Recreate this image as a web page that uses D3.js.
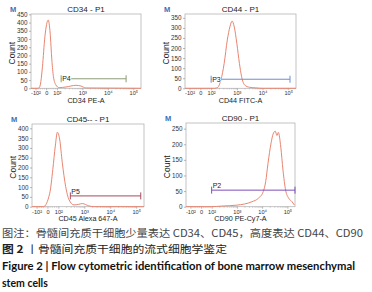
<!DOCTYPE html>
<html>
<head>
<meta charset="utf-8">
<script src="https://cdn.jsdelivr.net/npm/d3@7"></script>
<style>
  body { margin: 0; background: #fff; }
  svg { display: block; }
</style>
</head>
<body>
<svg id="chart"></svg>
<script>
// x ticks shared by all panels
const xTickValues = [-100, 0, 100, 1000, 10000, 100000];
const xTickLabels = ["-10\u00b2", "0", "10\u00b2", "10\u00b3", "10\u2074", "10\u2075"];

// CD34 histogram (fluorescence, count)
const cd34X = [-150, -84, -65, -50, -35, -12, 19, 37, 53, 68, 91, 123, 225, 556, 870, 1371, 200000];
const cd34Y = [0, 0, 3, 40, 131, 314, 415, 336, 172, 70, 20, 4, 8, 18, 14, 2, 0];

// CD44
const cd44X = [-150, 100, 137, 182, 240, 322, 426, 537, 653, 794, 1000, 1259, 1531, 2030, 3110, 5500, 10000, 200000];
const cd44Y = [0, 0, 0, 5, 41, 124, 240, 305, 334, 305, 223, 124, 58, 16, 5, 2, 0, 0];

// CD45
const cd45X = [-150, -37, 21, 49, 72, 91, 112, 142, 191, 259, 400, 600, 835, 1500, 2500, 200000];
const cd45Y = [0, 0, 69, 190, 310, 380, 345, 224, 103, 35, 9, 12, 16, 4, 0, 0];

// CD90
const cd90X = [-150, 100, 247, 1000, 3954, 7080, 11000, 13800, 17000, 22700, 27000, 33000, 38500, 43700, 54700, 66900, 85000, 113000, 152000, 190000];
const cd90Y = [0, 0, 2, 5, 16, 27, 48, 80, 138, 205, 232, 242, 228, 238, 191, 117, 53, 27, 16, 5];

// panel settings
const titles = ["CD34 - P1", "CD44 - P1", "CD45-- - P1", "CD90 - P1"];
const xLabels = ["CD34 PE-A", "CD44 FITC-A", "CD45 Alexa 647-A", "CD90 PE-Cy7-A"];
const yMaxes = [452, 369, 422, 268];
const yTickMax = [450, 350, 400, 250];
const gateNames = ["P4", "P3", "P5", "P2"];
const gateFrom = [147, 100, 290, 100];
const gateTo = [52000, 117000, 150000, 200000];
const gateLevel = [58, 45, 55, 53];

const W = 372, H = 292;
const svg = d3.select("#chart").attr("width", W).attr("height", H);

// biexponential-like transform: linear around 0, log10 above 100
function biex(v) {
    let a = Math.abs(v);
    let t = a <= 100 ? a / 100 * 0.42 : 0.42 + Math.log10(a / 100);
    return v < 0 ? -t : t;
}

const boxes = [
    {left: 31, top: 14, right: 141, bottom: 88.3},
    {left: 185, top: 14, right: 296, bottom: 88.3},
    {left: 32, top: 124, right: 144, bottom: 206.7},
    {left: 186, top: 123, right: 295, bottom: 206.7}
];
const gateColors = ["#8e9c76", "#6f8fcb", "#a84a5c", "#7b50b8"];
const labelAbove = [false, false, true, true];
const series = [[cd34X, cd34Y], [cd44X, cd44Y], [cd45X, cd45Y], [cd90X, cd90Y]];

const font = "'Liberation Sans', Arial, sans-serif";

boxes.forEach(function (b, i) {
    let g = svg.append("g");

    let xs = d3.scaleLinear().domain([biex(-150), biex(200000)]).range([b.left, b.right]);
    let x = v => xs(biex(v));
    let y = d3.scaleLinear().domain([0, yMaxes[i]]).range([b.bottom, b.top]);

    // "M" marker
    g.append("text")
        .attr("x", b.left - 21).attr("y", b.top - 2)
        .attr("font-family", font).attr("font-weight", "bold")
        .attr("font-size", "7.5px").attr("fill", "#3d6fb6")
        .text("M");

    // title
    g.append("text")
        .attr("x", (b.left + b.right) / 2).attr("y", b.top - 2)
        .attr("text-anchor", "middle")
        .attr("font-family", font).attr("font-size", "8px").attr("fill", "#222")
        .text(titles[i]);

    // frame
    g.append("rect")
        .attr("x", b.left).attr("y", b.top)
        .attr("width", b.right - b.left).attr("height", b.bottom - b.top)
        .attr("fill", "none").attr("stroke", "#b5b5b5").attr("stroke-width", 0.8);

    // y axis
    let axY = d3.axisLeft(y).tickValues(d3.range(0, yTickMax[i] + 1, 50))
        .tickSize(2).tickPadding(1.5);
    let gy = g.append("g").attr("transform", `translate(${b.left},0)`).call(axY);
    gy.select(".domain").remove();
    gy.selectAll("line").attr("stroke", "#888").attr("stroke-width", 0.6);
    gy.selectAll("text").attr("font-family", font).attr("font-size", "6.3px").attr("fill", "#333");

    // x axis minor ticks
    let minor = [];
    [100, 1000, 10000].forEach(function (d) {
        for (let k = 2; k <= 9; k++) minor.push(d * k);
    });
    [-20, -40, -60, -80, 20, 40, 60, 80].forEach(v => minor.push(v));
    let gm = g.append("g").attr("transform", `translate(0,${b.bottom})`)
        .call(d3.axisBottom(xs).tickValues(minor.map(biex)).tickSize(1.2).tickFormat(""));
    gm.select(".domain").remove();
    gm.selectAll("line").attr("stroke", "#999").attr("stroke-width", 0.4);

    // x axis major ticks
    let axX = d3.axisBottom(xs).tickValues(xTickValues.map(biex))
        .tickFormat((d, k) => xTickLabels[k]).tickSize(2).tickPadding(1);
    let gx = g.append("g").attr("transform", `translate(0,${b.bottom})`).call(axX);
    gx.select(".domain").remove();
    gx.selectAll("line").attr("stroke", "#888").attr("stroke-width", 0.6);
    gx.selectAll("text").attr("font-family", font).attr("font-size", "5.6px").attr("fill", "#333");

    // x label
    g.append("text")
        .attr("x", (b.left + b.right) / 2).attr("y", b.bottom + 14.5)
        .attr("text-anchor", "middle")
        .attr("font-family", font).attr("font-size", "7.2px").attr("fill", "#222")
        .text(xLabels[i]);

    // y label
    g.append("text")
        .attr("transform", `translate(${b.left - 16.5},${(b.top + b.bottom) / 2 + 2}) rotate(-90)`)
        .attr("text-anchor", "middle")
        .attr("font-family", "'Liberation Sans Narrow', 'Liberation Sans', sans-serif")
        .attr("font-size", "8.5px").attr("fill", "#222")
        .text("Count");

    // histogram curve
    let pts = series[i][0].map((v, k) => [v, series[i][1][k]]);
    let line = d3.line()
        .x(d => x(d[0]))
        .y(d => y(d[1]))
        .curve(d3.curveMonotoneX);
    g.append("path")
        .datum(pts)
        .attr("fill", "none")
        .attr("stroke", "#e98570")
        .attr("stroke-width", 1)
        .attr("d", line);

    // gate
    let gx1 = x(gateFrom[i]), gx2 = Math.min(x(gateTo[i]), b.right), gy1 = y(gateLevel[i]);
    let col = gateColors[i];
    g.append("line")
        .attr("x1", gx1).attr("x2", gx2).attr("y1", gy1).attr("y2", gy1)
        .attr("stroke", col).attr("stroke-width", 1);
    [gx1, gx2].forEach(function (px) {
        g.append("line")
            .attr("x1", px).attr("x2", px).attr("y1", gy1 - 3.5).attr("y2", gy1 + 3.5)
            .attr("stroke", col).attr("stroke-width", 1);
    });
    if (!labelAbove[i]) {
        g.append("rect")
            .attr("x", gx1 + 1).attr("y", gy1 - 3)
            .attr("width", 9).attr("height", 6).attr("fill", "#fff");
    }
    g.append("text")
        .attr("x", gx1 + 1).attr("y", labelAbove[i] ? gy1 - 2 : gy1 + 2.6)
        .attr("font-family", font).attr("font-size", "7px").attr("fill", "#222")
        .text(gateNames[i]);
});

// caption
const cjk = "'Noto Sans CJK SC', sans-serif";
svg.append("text")
    .attr("x", 2).attr("y", 236.5)
    .attr("font-family", cjk).attr("font-size", "10.5px").attr("fill", "#444")
    .attr("textLength", 361).attr("lengthAdjust", "spacingAndGlyphs")
    .text("图注：骨髓间充质干细胞少量表达 CD34、CD45，高度表达 CD44、CD90");

let l2 = svg.append("text")
    .attr("x", 2).attr("y", 253)
    .attr("font-family", cjk).attr("font-size", "10.5px").attr("fill", "#222")
    .attr("textLength", 225).attr("lengthAdjust", "spacingAndGlyphs");
l2.append("tspan").attr("font-weight", "bold").text("图 2");
l2.append("tspan").text(" 丨骨髓间充质干细胞的流式细胞学鉴定");

svg.append("text")
    .attr("x", 2).attr("y", 269.5)
    .attr("font-family", "Lato, 'Open Sans', sans-serif").attr("font-weight", "bold")
    .attr("font-size", "10.5px").attr("fill", "#111")
    .attr("textLength", 353).attr("lengthAdjust", "spacingAndGlyphs")
    .text("Figure 2  |  Flow cytometric identification of bone marrow mesenchymal");

svg.append("text")
    .attr("x", 2).attr("y", 287)
    .attr("font-family", "Lato, 'Open Sans', sans-serif").attr("font-weight", "bold")
    .attr("font-size", "10.5px").attr("fill", "#111")
    .text("stem cells");
</script>
</body>
</html>
